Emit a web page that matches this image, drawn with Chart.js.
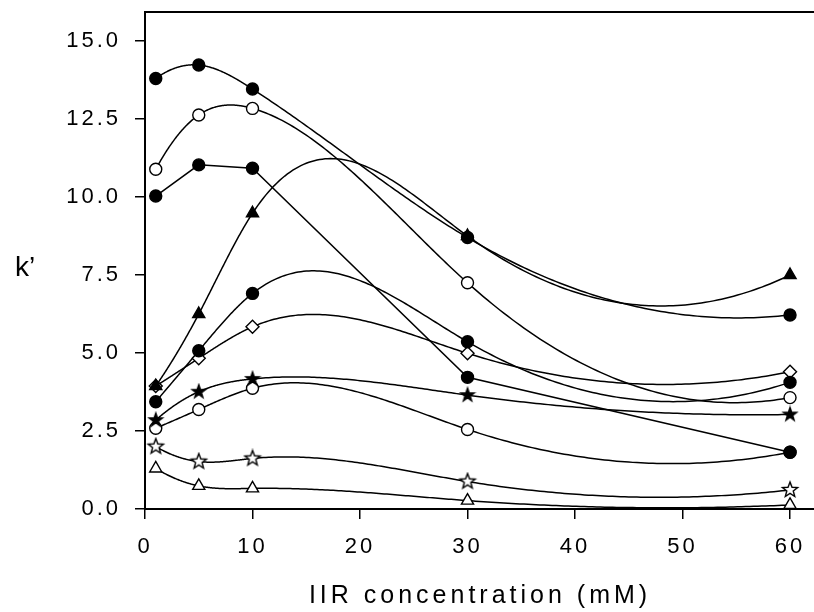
<!DOCTYPE html>
<html>
<head>
    <meta charset="utf-8">
    <title>k' x concentração de IIR</title>
    <script src="https://cdn.jsdelivr.net/npm/chart.js@4.4.2/dist/chart.umd.min.js"></script>
    <style>
        html, body {
            margin: 0;
            padding: 0;
            background: #fff;
            overflow: hidden;
        }

        canvas {
            display: block;
        }
    </style>
</head>
<body>
    <canvas id="grafico" width="814" height="612"></canvas>
    <script>
        // concentração de IIR (mM)
        const concentracao = [1, 5, 10, 30, 60];

        // k' de cada série
        const kCirculoCheioA = [13.80, 14.23, 13.46, 8.70, 6.22];
        const kCirculoAbertoA = [10.89, 12.63, 12.84, 7.25, 3.57];
        const kCirculoCheioB = [10.03, 11.03, 10.92, 4.22, 1.82];
        const kTrianguloCheio = [3.94, 6.25, 9.48, 8.75, 7.50];
        const kCirculoCheioC = [3.44, 5.07, 6.91, 5.36, 4.06];
        const kLosango = [3.94, 4.83, 5.84, 4.99, 4.40];
        const kEstrelaCheia = [2.85, 3.76, 4.17, 3.65, 3.03];
        const kCirculoAbertoB = [2.59, 3.19, 3.87, 2.55, 1.82];
        const kEstrelaAberta = [2.00, 1.52, 1.62, 0.88, 0.61];
        const kTrianguloAberto = [1.30, 0.74, 0.66, 0.27, 0.13];

        const yTicks = [0, 2.5, 5, 7.5, 10, 12.5, 15];
        const xTicks = [0, 10, 20, 30, 40, 50, 60];

        function pontos(valores) {
            return concentracao.map((c, i) => ({ x: c, y: valores[i] }));
        }

        // estrela de 5 pontas como imagem para pointStyle
        function estrela(raio, interno, cheia) {
            const c = document.createElement('canvas');
            const s = Math.ceil(raio * 2 + 4);
            c.width = s;
            c.height = s;
            const g = c.getContext('2d');
            g.beginPath();
            for (let i = 0; i < 10; i++) {
                const r = i % 2 ? interno : raio;
                const a = -Math.PI / 2 + i * Math.PI / 5;
                const px = s / 2 + r * Math.cos(a);
                const py = s / 2 + r * Math.sin(a);
                if (i) g.lineTo(px, py); else g.moveTo(px, py);
            }
            g.closePath();
            g.fillStyle = cheia ? '#000' : '#fff';
            g.fill();
            g.lineWidth = 1.4;
            g.strokeStyle = '#000';
            g.stroke();
            return c;
        }

        // segunda derivada do spline cúbico (extremos parabólicos: M0 = M1, Mn = Mn-1)
        function segundaDerivada(xs, ys) {
            const n = xs.length;
            const m = new Array(n).fill(0);
            const a = [], b = [], c = [], d = [];
            for (let i = 1; i < n - 1; i++) {
                const h0 = xs[i] - xs[i - 1], h1 = xs[i + 1] - xs[i];
                a.push(h0);
                b.push(2 * (h0 + h1));
                c.push(h1);
                d.push(6 * ((ys[i + 1] - ys[i]) / h1 - (ys[i] - ys[i - 1]) / h0));
            }
            const k = b.length;
            b[0] += xs[1] - xs[0];
            b[k - 1] += xs[n - 1] - xs[n - 2];
            for (let i = 1; i < k; i++) {
                const w = a[i] / b[i - 1];
                b[i] -= w * c[i - 1];
                d[i] -= w * d[i - 1];
            }
            const sol = new Array(k);
            sol[k - 1] = d[k - 1] / b[k - 1];
            for (let i = k - 2; i >= 0; i--) sol[i] = (d[i] - c[i] * sol[i + 1]) / b[i];
            for (let i = 0; i < k; i++) m[i + 1] = sol[i];
            m[0] = m[1];
            m[n - 1] = m[n - 2];
            return m;
        }

        const curvas = {
            id: 'curvas',
            beforeDraw(chart) {
                chart.ctx.letterSpacing = '3px';
            },
            beforeDatasetsDraw(chart) {
                const { ctx, chartArea: area, scales: { x, y } } = chart;
                ctx.save();
                ctx.beginPath();
                ctx.rect(area.left, area.top, area.right - area.left, area.bottom - area.top);
                ctx.clip();
                ctx.strokeStyle = '#000';
                ctx.lineWidth = 1.5;
                chart.data.datasets.forEach(ds => {
                    const xs = ds.data.map(p => p.x);
                    const ys = ds.data.map(p => p.y);
                    ctx.beginPath();
                    ctx.moveTo(x.getPixelForValue(xs[0]), y.getPixelForValue(ys[0]));
                    if (!ds.suave) {
                        for (let i = 1; i < xs.length; i++) {
                            ctx.lineTo(x.getPixelForValue(xs[i]), y.getPixelForValue(ys[i]));
                        }
                    } else {
                        const m = segundaDerivada(xs, ys);
                        for (let i = 0; i < xs.length - 1; i++) {
                            const h = xs[i + 1] - xs[i];
                            for (let j = 1; j <= 80; j++) {
                                const t = xs[i] + h * j / 80;
                                const A = (xs[i + 1] - t) / h, B = (t - xs[i]) / h;
                                const v = A * ys[i] + B * ys[i + 1] +
                                    ((A * A * A - A) * m[i] + (B * B * B - B) * m[i + 1]) * h * h / 6;
                                ctx.lineTo(x.getPixelForValue(t), y.getPixelForValue(v));
                            }
                        }
                    }
                    ctx.stroke();
                });
                ctx.restore();
            },
            afterDraw(chart) {
                const { ctx, chartArea: area } = chart;
                ctx.save();
                // borda superior
                ctx.strokeStyle = '#000';
                ctx.lineWidth = 2;
                ctx.beginPath();
                ctx.moveTo(area.left - 1, area.top);
                ctx.lineTo(area.right, area.top);
                ctx.stroke();
                // títulos
                ctx.fillStyle = '#000';
                ctx.textBaseline = 'middle';
                ctx.textAlign = 'center';
                ctx.letterSpacing = '4px';
                ctx.font = '25px "Liberation Sans", Arial, sans-serif';
                ctx.fillText('IIR concentration (mM)', 480, 596);
                ctx.letterSpacing = '0px';
                ctx.font = '28px "Liberation Sans", Arial, sans-serif';
                ctx.fillText('k\u2019', 25, 268);
                ctx.restore();
            }
        };

        const base = { borderColor: '#000', borderWidth: 1.4, showLine: false, suave: true };

        const datasets = [
            { ...base, data: pontos(kCirculoCheioA), pointStyle: 'circle', pointRadius: 6, backgroundColor: '#000' },
            { ...base, data: pontos(kCirculoAbertoA), pointStyle: 'circle', pointRadius: 6, backgroundColor: '#fff' },
            { ...base, data: pontos(kCirculoCheioB), pointStyle: 'circle', pointRadius: 6, backgroundColor: '#000', suave: false },
            { ...base, data: pontos(kTrianguloCheio), pointStyle: 'triangle', pointRadius: 7, backgroundColor: '#000' },
            { ...base, data: pontos(kCirculoCheioC), pointStyle: 'circle', pointRadius: 6, backgroundColor: '#000' },
            { ...base, data: pontos(kLosango), pointStyle: 'rectRot', pointRadius: 6.5, backgroundColor: '#fff' },
            { ...base, data: pontos(kEstrelaCheia), pointStyle: estrela(7, 2.8, true), backgroundColor: '#000' },
            { ...base, data: pontos(kCirculoAbertoB), pointStyle: 'circle', pointRadius: 6, backgroundColor: '#fff' },
            { ...base, data: pontos(kEstrelaAberta), pointStyle: estrela(8, 3.4, false), backgroundColor: '#fff' },
            { ...base, data: pontos(kTrianguloAberto), pointStyle: 'triangle', pointRadius: 7, backgroundColor: '#fff' }
        ];

        const fonteTicks = { family: '"Liberation Sans", Arial, sans-serif', size: 22 };

        new Chart(document.getElementById('grafico'), {
            type: 'scatter',
            data: { datasets },
            plugins: [curvas],
            options: {
                responsive: false,
                animation: false,
                devicePixelRatio: 1,
                layout: { autoPadding: false, padding: { top: 12, left: 0, right: 0, bottom: 0 } },
                plugins: { legend: { display: false }, tooltip: { enabled: false } },
                scales: {
                    x: {
                        type: 'linear',
                        min: 0,
                        max: 62.23,
                        afterBuildTicks: s => { s.ticks = xTicks.map(v => ({ value: v })); },
                        afterFit: s => { s.height = 103; s.paddingLeft = 0; s.paddingRight = 0; },
                        grid: { drawOnChartArea: false, tickLength: 10, color: '#000', lineWidth: 1.5 },
                        border: { color: '#000', width: 2 },
                        ticks: { color: '#000', font: fonteTicks, padding: 15, maxRotation: 0, callback: v => String(v) }
                    },
                    y: {
                        type: 'linear',
                        min: 0,
                        max: 15.93,
                        afterBuildTicks: s => { s.ticks = yTicks.map(v => ({ value: v })); },
                        afterFit: s => { s.width = 145; s.paddingTop = 0; s.paddingBottom = 0; },
                        grid: { drawOnChartArea: false, tickLength: 10, color: '#000', lineWidth: 1.5 },
                        border: { color: '#000', width: 2 },
                        ticks: { color: '#000', font: fonteTicks, padding: 14, callback: v => v.toFixed(1) }
                    }
                }
            }
        });
    </script>
</body>
</html>
